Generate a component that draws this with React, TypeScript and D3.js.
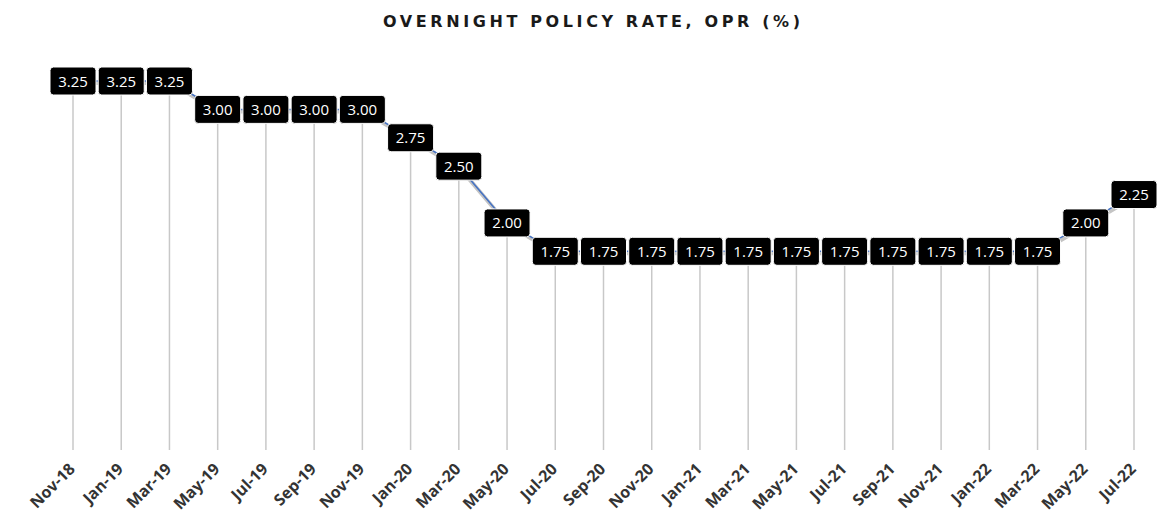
import React from "react";
import * as d3 from "d3";

const categories = ["Nov-18","Jan-19","Mar-19","May-19","Jul-19","Sep-19","Nov-19","Jan-20","Mar-20","May-20","Jul-20","Sep-20","Nov-20","Jan-21","Mar-21","May-21","Jul-21","Sep-21","Nov-21","Jan-22","Mar-22","May-22","Jul-22"];
const values = [3.25,3.25,3.25,3.0,3.0,3.0,3.0,2.75,2.5,2.0,1.75,1.75,1.75,1.75,1.75,1.75,1.75,1.75,1.75,1.75,1.75,2.0,2.25];
const title = "OVERNIGHT POLICY RATE, OPR (%)";

export default function App() {
  const W = 1166, H = 527;
  const x = d3.scalePoint<string>().domain(categories).range([73, 1134]);
  const y = d3.scaleLinear().domain([0, 3.25]).range([450, 81]);
  const pts = categories.map((c, i) => [x(c) as number, y(values[i])] as [number, number]);
  const line = d3.line<[number, number]>().x(d => d[0]).y(d => d[1]);
  const bw = 46, bh = 28;
  return (
    <svg width={W} height={H} style={{ position: "absolute", left: 0, top: 0, background: "#fff" }}>
      <text x={383} y={27} textLength={417} lengthAdjust="spacing" fontFamily="'DejaVu Sans', sans-serif" fontWeight="bold" fontSize={16} fill="#1a1a1a">{title}</text>
      {pts.map((p, i) => (
        <line key={"d" + i} x1={p[0]} x2={p[0]} y1={p[1]} y2={y(0)} stroke="#c8c8c8" strokeWidth={1.5} />
      ))}
      <path d={line(pts.map(p => [p[0] + 1, p[1] + 2] as [number, number])) || ""} fill="none" stroke="#c4c4c4" strokeWidth={4} />
      <path d={line(pts) || ""} fill="none" stroke="#4472C4" strokeWidth={1.5} />
      {pts.map((p, i) => (
        <g key={"l" + i}>
          <rect x={p[0] - bw / 2} y={p[1] - bh / 2} width={bw} height={bh} rx={3.5} fill="#000" stroke="#fff" strokeWidth={1} />
          <text x={p[0]} y={p[1] + 5.5} textAnchor="middle" fontFamily="'Open Sans', sans-serif" fontSize={15} fill="#fff">{values[i].toFixed(2)}</text>
        </g>
      ))}
      {categories.map((c, i) => {
        const tx = (x(c) as number) + 3, ty = 470;
        return (
          <text key={"x" + i} x={tx} y={ty} transform={`rotate(-45 ${tx} ${ty})`} textAnchor="end" fontFamily="'Open Sans', sans-serif" fontWeight="bold" fontSize={16} fill="#333">{c}</text>
        );
      })}
    </svg>
  );
}
